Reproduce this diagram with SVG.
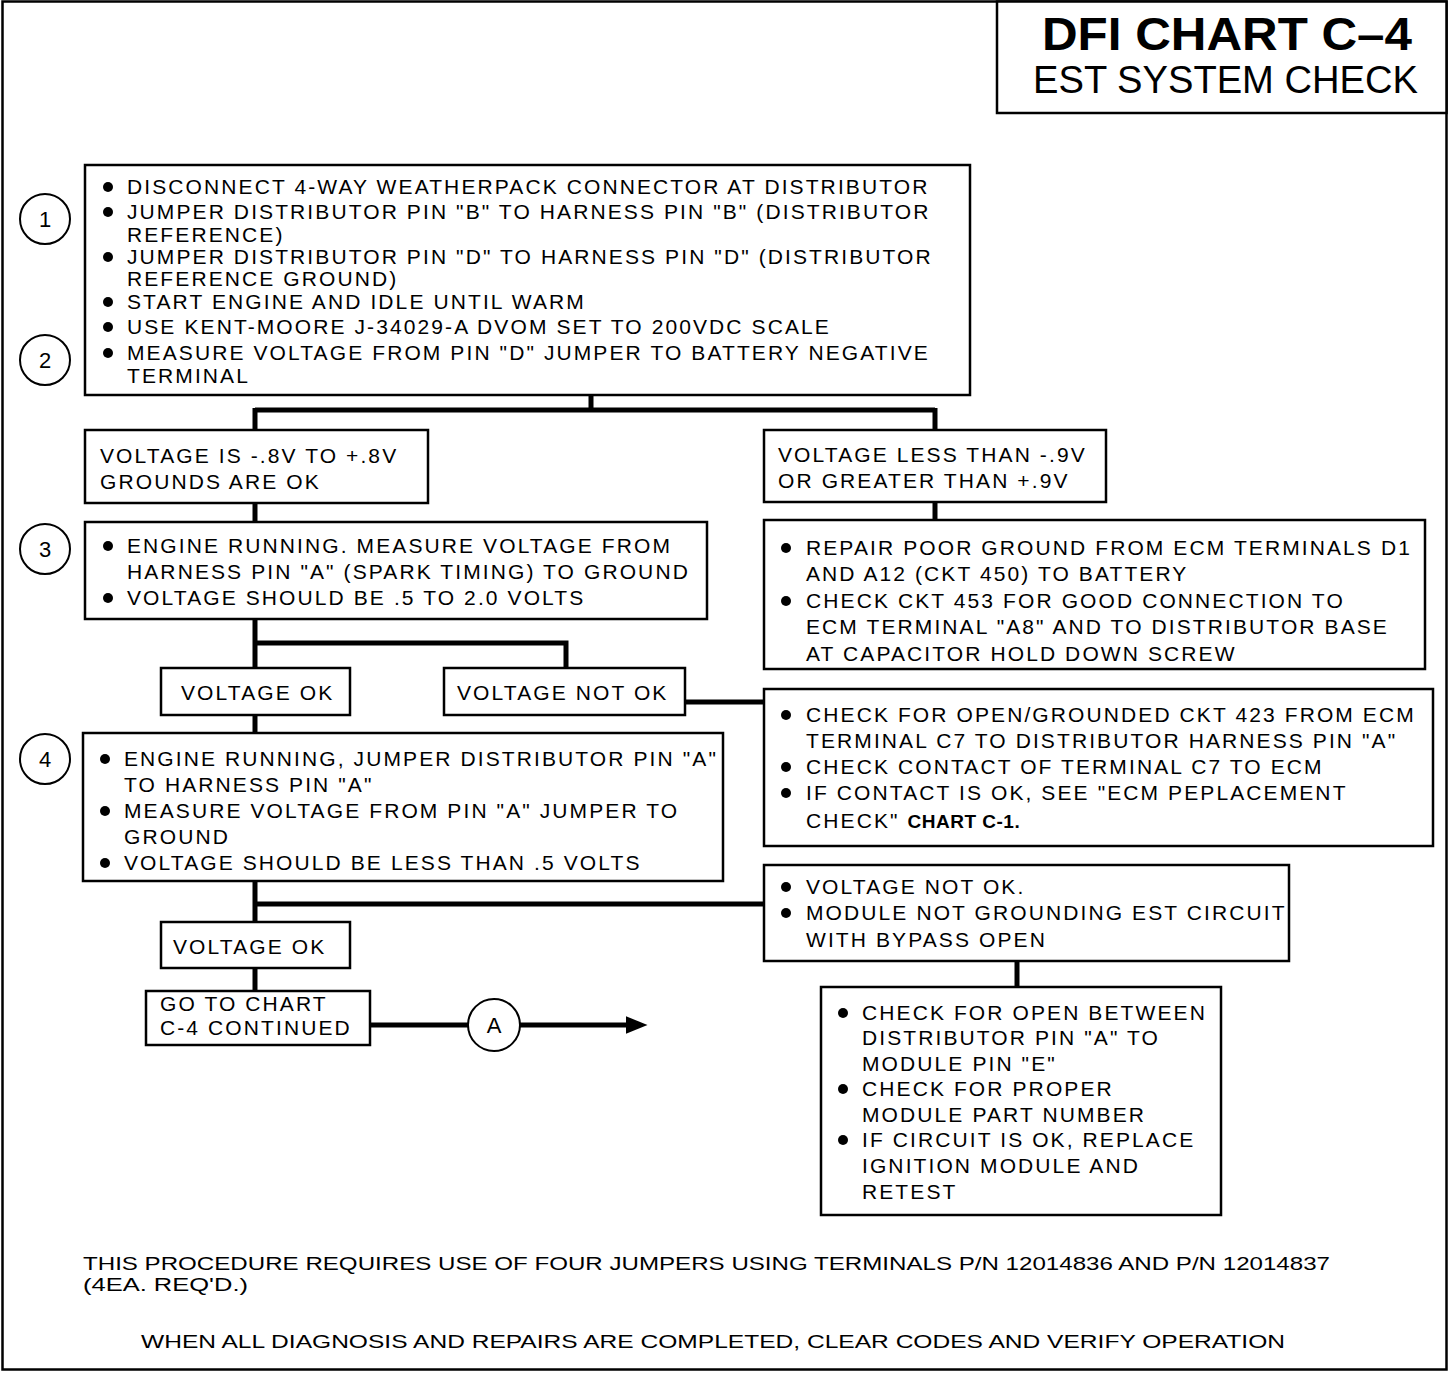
<svg xmlns="http://www.w3.org/2000/svg" width="1456" height="1374" viewBox="0 0 1456 1374">
<style>
.bx{fill:#fff;stroke:#000;stroke-width:2.5}
.cn{fill:none;stroke:#000;stroke-width:5}
.t{font-family:"Liberation Sans",Arial,sans-serif;font-size:21px;letter-spacing:2.1px;fill:#000}
.f{font-family:"Liberation Sans",Arial,sans-serif;font-size:19px;fill:#000}
.num{font-family:"Liberation Sans",Arial,sans-serif;font-size:22px;fill:#000;text-anchor:middle}
.circ{fill:#fff;stroke:#000;stroke-width:2}
.b{fill:#000}
</style>
<defs>
<marker id="ah" markerWidth="5" markerHeight="4" refX="0.5" refY="1.8" orient="auto" markerUnits="strokeWidth">
<path d="M0,0 L4.4,1.8 L0,3.6 Z" fill="#000"/>
</marker>
</defs>
<rect x="0" y="0" width="1456" height="1374" fill="#fff"/>
<rect x="2.5" y="1.5" width="1444" height="1368" fill="none" stroke="#000" stroke-width="2.5"/>

<g id="title">
<rect class="bx" x="997" y="1.5" width="449.5" height="111.5"/>
<text x="1042" y="50" font-family="'Liberation Sans',Arial,sans-serif" font-size="46" font-weight="bold" textLength="370" lengthAdjust="spacingAndGlyphs">DFI CHART C–4</text>
<text x="1033" y="93" font-family="'Liberation Sans',Arial,sans-serif" font-size="38" textLength="385" lengthAdjust="spacingAndGlyphs">EST SYSTEM CHECK</text>
</g>

<g id="connectors">
<path class="cn" d="M591,395 V410 M255,410 H935 M255,408 V430 M935,408 V430"/>
<path class="cn" d="M255,503 V522"/>
<path class="cn" d="M935,502 V520"/>
<path class="cn" d="M255,619 V668 M255,643 H566 V668"/>
<path class="cn" d="M685,702 H764"/>
<path class="cn" d="M255,715 V733"/>
<path class="cn" d="M255,881 V922 M255,904 H764"/>
<path class="cn" d="M1017,961 V987"/>
<path class="cn" d="M255,968 V991"/>
<path class="cn" d="M370,1025 H468"/>
<path class="cn" d="M520,1025 H628" marker-end="url(#ah)"/>
</g>

<g id="step-markers">
<circle class="circ" cx="45" cy="219" r="25"/><text class="num" x="45" y="227">1</text>
<circle class="circ" cx="45" cy="360" r="25"/><text class="num" x="45" y="368">2</text>
<circle class="circ" cx="45" cy="549" r="25"/><text class="num" x="45" y="557">3</text>
<circle class="circ" cx="45" cy="759" r="25"/><text class="num" x="45" y="767">4</text>
</g>

<g id="box1">
<rect class="bx" x="85" y="165" width="885" height="230"/>
<circle class="b" cx="108" cy="187" r="5"/>
<text class="t" x="127" y="194">DISCONNECT 4-WAY WEATHERPACK CONNECTOR AT DISTRIBUTOR</text>
<circle class="b" cx="108" cy="212" r="5"/>
<text class="t" x="127" y="219">JUMPER DISTRIBUTOR PIN "B" TO HARNESS PIN "B" (DISTRIBUTOR</text>
<text class="t" x="127" y="242">REFERENCE)</text>
<circle class="b" cx="108" cy="257" r="5"/>
<text class="t" x="127" y="264">JUMPER DISTRIBUTOR PIN "D" TO HARNESS PIN "D" (DISTRIBUTOR</text>
<text class="t" x="127" y="286">REFERENCE GROUND)</text>
<circle class="b" cx="108" cy="302" r="5"/>
<text class="t" x="127" y="309">START ENGINE AND IDLE UNTIL WARM</text>
<circle class="b" cx="108" cy="327" r="5"/>
<text class="t" x="127" y="334">USE KENT-MOORE J-34029-A DVOM SET TO 200VDC SCALE</text>
<circle class="b" cx="108" cy="353" r="5"/>
<text class="t" x="127" y="360">MEASURE VOLTAGE FROM PIN "D" JUMPER TO BATTERY NEGATIVE</text>
<text class="t" x="127" y="383">TERMINAL</text>
</g>

<g id="grounds-ok">
<rect class="bx" x="85" y="430" width="343" height="73"/>
<text class="t" x="100" y="463">VOLTAGE IS -.8V TO +.8V</text>
<text class="t" x="100" y="489">GROUNDS ARE OK</text>
</g>

<g id="voltage-out-of-range">
<rect class="bx" x="764" y="430" width="342" height="72"/>
<text class="t" x="778" y="462">VOLTAGE LESS THAN -.9V</text>
<text class="t" x="778" y="488">OR GREATER THAN +.9V</text>
</g>

<g id="box3">
<rect class="bx" x="85" y="522" width="622" height="97"/>
<circle class="b" cx="108" cy="546" r="5"/>
<text class="t" x="127" y="553">ENGINE RUNNING. MEASURE VOLTAGE FROM</text>
<text class="t" x="127" y="579">HARNESS PIN "A" (SPARK TIMING) TO GROUND</text>
<circle class="b" cx="108" cy="598" r="5"/>
<text class="t" x="127" y="605">VOLTAGE SHOULD BE .5 TO 2.0 VOLTS</text>
</g>

<g id="repair-ground">
<rect class="bx" x="764" y="520" width="661" height="149"/>
<circle class="b" cx="786" cy="548" r="5"/>
<text class="t" x="806" y="555">REPAIR POOR GROUND FROM ECM TERMINALS D1</text>
<text class="t" x="806" y="581">AND A12 (CKT 450) TO BATTERY</text>
<circle class="b" cx="786" cy="601" r="5"/>
<text class="t" x="806" y="608">CHECK CKT 453 FOR GOOD CONNECTION TO</text>
<text class="t" x="806" y="634">ECM TERMINAL "A8" AND TO DISTRIBUTOR BASE</text>
<text class="t" x="806" y="661">AT CAPACITOR HOLD DOWN SCREW</text>
</g>

<g id="voltage-ok-1">
<rect class="bx" x="161" y="668" width="189" height="47"/>
<text class="t" x="181" y="700">VOLTAGE OK</text>
</g>

<g id="voltage-not-ok-1">
<rect class="bx" x="444" y="668" width="241" height="47"/>
<text class="t" x="457" y="700">VOLTAGE NOT OK</text>
</g>

<g id="ckt423">
<rect class="bx" x="764" y="689" width="669" height="157"/>
<circle class="b" cx="786" cy="715" r="5"/>
<text class="t" x="806" y="722">CHECK FOR OPEN/GROUNDED CKT 423 FROM ECM</text>
<text class="t" x="806" y="748">TERMINAL C7 TO DISTRIBUTOR HARNESS PIN "A"</text>
<circle class="b" cx="786" cy="767" r="5"/>
<text class="t" x="806" y="774">CHECK CONTACT OF TERMINAL C7 TO ECM</text>
<circle class="b" cx="786" cy="793" r="5"/>
<text class="t" x="806" y="800">IF CONTACT IS OK, SEE "ECM PEPLACEMENT</text>
<text class="t" x="806" y="828">CHECK" <tspan font-weight="bold" font-size="19" letter-spacing="0.5">CHART C-1.</tspan></text>
</g>

<g id="box4">
<rect class="bx" x="83" y="733" width="640" height="148"/>
<circle class="b" cx="105" cy="759" r="5"/>
<text class="t" x="124" y="766">ENGINE RUNNING, JUMPER DISTRIBUTOR PIN "A"</text>
<text class="t" x="124" y="792">TO HARNESS PIN "A"</text>
<circle class="b" cx="105" cy="811" r="5"/>
<text class="t" x="124" y="818">MEASURE VOLTAGE FROM PIN "A" JUMPER TO</text>
<text class="t" x="124" y="844">GROUND</text>
<circle class="b" cx="105" cy="863" r="5"/>
<text class="t" x="124" y="870">VOLTAGE SHOULD BE LESS THAN .5 VOLTS</text>
</g>

<g id="module-not-grounding">
<rect class="bx" x="764" y="865" width="525" height="96"/>
<circle class="b" cx="786" cy="887" r="5"/>
<text class="t" x="806" y="894">VOLTAGE NOT OK.</text>
<circle class="b" cx="786" cy="913" r="5"/>
<text class="t" x="806" y="920">MODULE NOT GROUNDING EST CIRCUIT</text>
<text class="t" x="806" y="947">WITH BYPASS OPEN</text>
</g>

<g id="voltage-ok-2">
<rect class="bx" x="161" y="922" width="189" height="46"/>
<text class="t" x="173" y="954">VOLTAGE OK</text>
</g>

<g id="go-to-chart">
<rect class="bx" x="146" y="991" width="224" height="54"/>
<text class="t" x="160" y="1011">GO TO CHART</text>
<text class="t" x="160" y="1035">C-4 CONTINUED</text>
</g>

<g id="connector-a">
<circle class="circ" cx="494" cy="1025" r="26"/>
<text class="num" x="494" y="1033">A</text>
</g>

<g id="check-module">
<rect class="bx" x="821" y="987" width="400" height="228"/>
<circle class="b" cx="843" cy="1013" r="5"/>
<text class="t" x="862" y="1020">CHECK FOR OPEN BETWEEN</text>
<text class="t" x="862" y="1045">DISTRIBUTOR PIN "A" TO</text>
<text class="t" x="862" y="1071">MODULE PIN "E"</text>
<circle class="b" cx="843" cy="1089" r="5"/>
<text class="t" x="862" y="1096">CHECK FOR PROPER</text>
<text class="t" x="862" y="1122">MODULE PART NUMBER</text>
<circle class="b" cx="843" cy="1140" r="5"/>
<text class="t" x="862" y="1147">IF CIRCUIT IS OK, REPLACE</text>
<text class="t" x="862" y="1173">IGNITION MODULE AND</text>
<text class="t" x="862" y="1199">RETEST</text>
</g>

<g id="notes">
<text class="f" x="83" y="1270" textLength="1247" lengthAdjust="spacingAndGlyphs">THIS PROCEDURE REQUIRES USE OF FOUR JUMPERS USING TERMINALS P/N 12014836 AND P/N 12014837</text>
<text class="f" x="83" y="1291" textLength="165" lengthAdjust="spacingAndGlyphs">(4EA. REQ'D.)</text>
<text class="f" x="141" y="1348" textLength="1144" lengthAdjust="spacingAndGlyphs">WHEN ALL DIAGNOSIS AND REPAIRS ARE COMPLETED, CLEAR CODES AND VERIFY OPERATION</text>
</g>
</svg>
